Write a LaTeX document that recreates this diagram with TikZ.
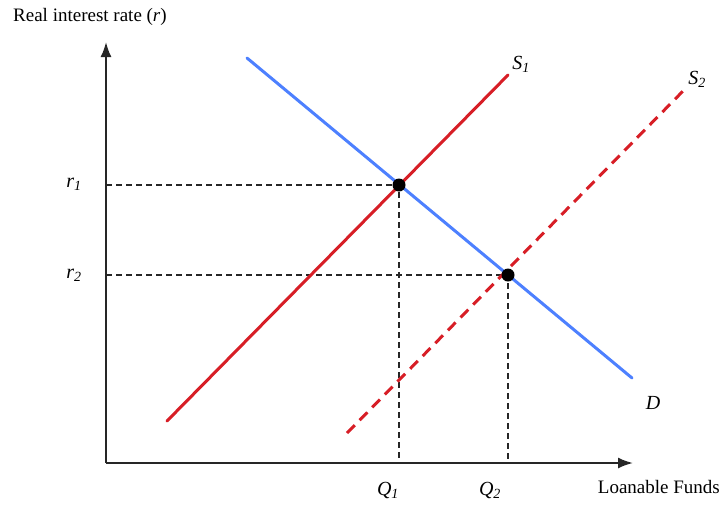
\documentclass[tikz,border=0pt]{standalone}
\usepackage{fontspec}
\setmainfont{Liberation Serif}
\usetikzlibrary{arrows.meta}
\begin{document}
\begin{tikzpicture}[x=1pt,y=-1pt,
  axis/.style={line width=2pt,draw=black!85,-{Latex[length=15pt,width=11pt]}},
  guide/.style={line width=1.5pt,draw=black!85,dash pattern=on 6pt off 4pt},
  demand/.style={line width=3pt,draw={rgb,255:red,77;green,128;blue,255}},
  supply/.style={line width=3pt,draw={rgb,255:red,215;green,30;blue,38}},
  supplyb/.style={supply,dash pattern=on 11pt off 7pt},
  dot/.style={circle,fill=black,inner sep=0pt,minimum size=13pt},
  lbl/.style={font=\fontsize{19}{22}\selectfont,inner sep=0pt},
  ilbl/.style={lbl,font=\fontsize{20}{22}\selectfont\itshape}]
\useasboundingbox (0,0) rectangle (722,504);
% axes
\coordinate (O) at (106,463);
\coordinate (ytop) at (106,42);
\coordinate (xend) at (633,463);
\draw[axis] (O) -- (ytop);
\draw[axis] (O) -- (xend);
% equilibrium points
\coordinate (E1) at (399,185);
\coordinate (E2) at (508,275);
\coordinate (Y1) at (106,185);
\coordinate (Y2) at (106,275);
\coordinate (X1) at (399,463);
\coordinate (X2) at (508,463);
\draw[guide] (Y1) -- (E1) -- (X1);
\draw[guide] (Y2) -- (E2) -- (X2);
% curves
\coordinate (Da) at (247,58);
\coordinate (Db) at (632,378);
\coordinate (S1a) at (167,421);
\coordinate (S1b) at (508,75);
\coordinate (S2a) at (347,433);
\coordinate (S2b) at (685,89);
\draw[demand,line cap=round] (Da) -- (Db);
\draw[supply,line cap=round] (S1a) -- (S1b);
\draw[supplyb] (S2a) -- (S2b);
\node[dot] (P1) at (E1) {};
\node[dot] (P2) at (E2) {};
% labels
\node[lbl,anchor=west] (ylab) at (13,17) {Real interest rate (\textit{r})};
\node[lbl,anchor=east] (xlab) at (720,487) {Loanable Funds};
\node[ilbl] (r1) at (74,184) {r\textsubscript{1}};
\node[ilbl] (r2) at (74,275) {r\textsubscript{2}};
\node[ilbl] (q1) at (388,490) {Q\textsubscript{1}};
\node[ilbl] (q2) at (490,490) {Q\textsubscript{2}};
\node[ilbl] (s1) at (521,64) {S\textsubscript{1}};
\node[ilbl] (s2) at (697,79) {S\textsubscript{2}};
\node[ilbl] (d) at (653,403) {D};
\end{tikzpicture}
\end{document}
